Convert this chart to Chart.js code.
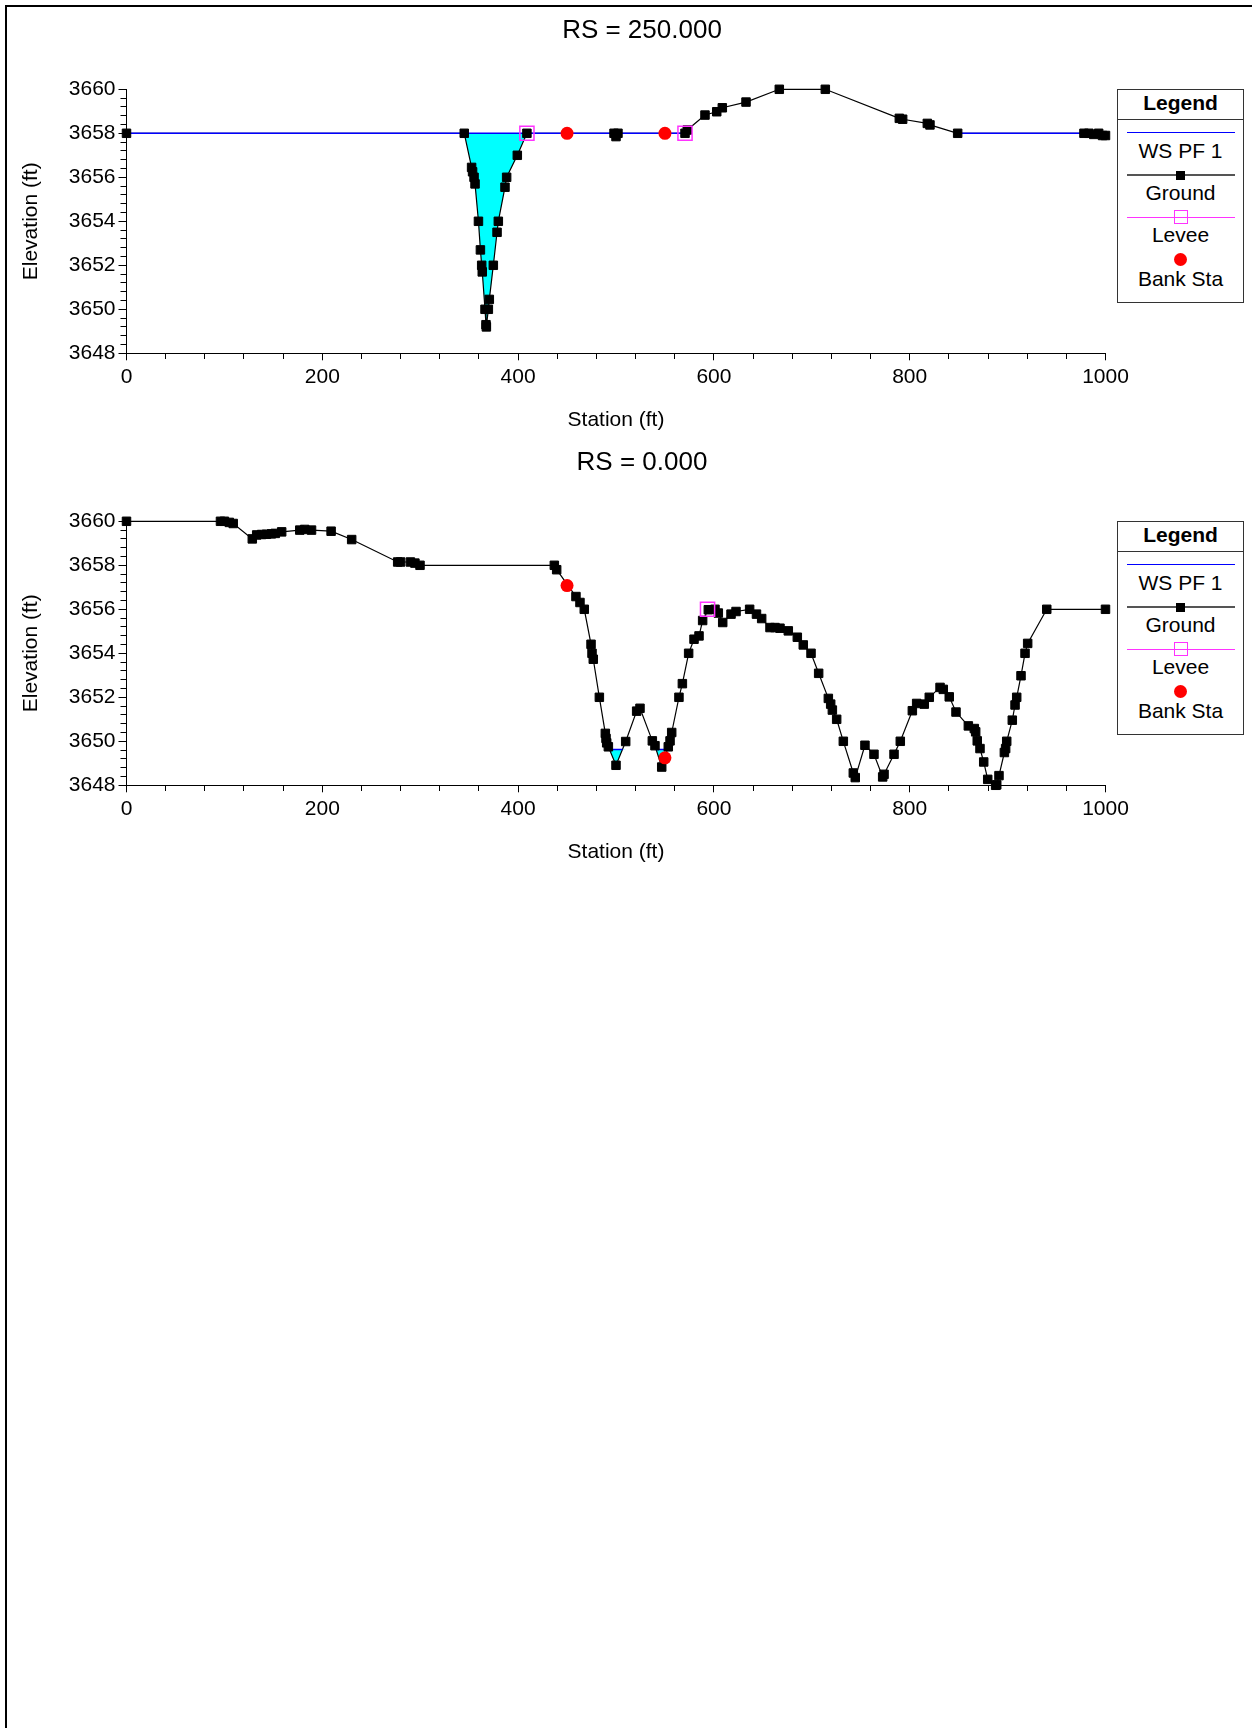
<!DOCTYPE html>
<html>
<head>
<meta charset="utf-8">
<script src="https://cdn.jsdelivr.net/npm/chart.js@4.4.1/dist/chart.umd.min.js"></script>
<style>
html,body{margin:0;padding:0;background:#fff;}
body{width:1252px;height:1728px;position:relative;overflow:hidden;font-family:"Liberation Sans",Arial,sans-serif;color:#000;}
#frame{position:absolute;left:5px;top:5px;width:1300px;height:1800px;border-left:2px solid #000;border-top:2px solid #000;}
.panel{position:absolute;left:0;width:1252px;height:440px;}
.panel canvas{position:absolute;left:0;top:0;}
.title{position:absolute;left:442px;width:400px;top:13.5px;height:30px;line-height:30px;text-align:center;font-size:26px;white-space:nowrap;}
.legend{position:absolute;left:1117px;top:89px;width:127px;height:214px;box-sizing:border-box;border:1px solid #333;background:#fff;}
.legend .txt{position:absolute;left:0;width:125px;height:24px;line-height:24px;text-align:center;font-size:21px;white-space:nowrap;}
.legend .hdr{font-weight:bold;}
.legend .div{position:absolute;left:0;width:125px;top:29px;height:0;border-top:1px solid #333;}
.legend .ln{position:absolute;left:9px;width:108px;height:0;}
.legend .mk{position:absolute;box-sizing:border-box;}
</style>
</head>
<body>
<div id="frame"></div>

<div class="panel" id="p1" style="top:0px;">
  <canvas id="c1" width="1252" height="440"></canvas>
  <div class="title">RS = 250.000</div>
</div>
<div class="panel" id="p2" style="top:432px;">
  <canvas id="c2" width="1252" height="440"></canvas>
  <div class="title">RS = 0.000</div>
</div>

<script>
// ---------------- DATA ----------------
// RS = 250.000
const topGroundSta  = [0, 345, 352.5, 353.5, 355, 356, 359.5, 361.5, 362.8, 363.4, 366.2, 367.2, 367.6, 369.6, 370.6, 374.7, 378.5, 379.8, 386.6, 388.3, 399.2, 409, 498, 500, 502, 570.5, 572.8, 590.9, 602.9, 608.6, 632.8, 666.8, 713.8, 789.4, 792.8, 818, 820.7, 849, 978, 983, 988, 993, 997, 1000];
const topGroundElev = [3658, 3658, 3656.45, 3656.25, 3656.0, 3655.7, 3654.0, 3652.7, 3652.0, 3651.7, 3650.0, 3649.3, 3649.2, 3650.0, 3650.45, 3652.0, 3653.5, 3654.0, 3655.55, 3656.0, 3657.0, 3658, 3658, 3657.85, 3658, 3658, 3658.15, 3658.83, 3658.98, 3659.16, 3659.42, 3660, 3660, 3658.68, 3658.64, 3658.45, 3658.38, 3658, 3658, 3658, 3657.95, 3658, 3657.9, 3657.9];
const topBankSta    = [450, 550];
const topBankElev   = [3658, 3658];
const topLeveeSta   = [409, 570.5];
const topLeveeElev  = [3658, 3658];
const topWsElev     = 3658;
const topWsFrom     = [0, 849];
const topWsTo       = [570.5, 1000];
const topWaterFrom  = [345];
const topWaterTo    = [409];

// RS = 0.000
const botGroundSta  = [0, 96, 100, 105, 109, 128.5, 133, 138, 143, 148, 152, 158.5, 177, 182, 189, 209, 230, 277, 280, 290, 294.6, 299.8, 437, 439.4, 459.1, 463.2, 467.6, 474.5, 475.5, 476.8, 483, 489.1, 489.8, 490.5, 492.2, 500, 509.9, 521.1, 524.5, 537.1, 539.8, 546.7, 553.4, 555.2, 556.9, 564.3, 567.8, 574.2, 579.7, 584.8, 588.5, 594.3, 601.1, 604.5, 609, 617.5, 622.6, 636.5, 643.5, 648.8, 657.3, 662.4, 667.5, 676, 685.2, 691.3, 699.2, 707, 716.9, 719.3, 721, 725.4, 732.2, 742.4, 744.4, 754.3, 763.5, 772.4, 773.8, 784, 790.4, 802.7, 807.1, 814.9, 820, 831, 834.3, 840.4, 847.3, 859.9, 866, 867.4, 869, 871.8, 875.6, 879.7, 887.8, 888.9, 891.2, 896.7, 898, 899.1, 904.8, 907.6, 909.3, 913.7, 917.8, 920.5, 940, 1000];
const botGroundElev = [3660, 3660, 3660, 3659.95, 3659.9, 3659.2, 3659.38, 3659.4, 3659.41, 3659.43, 3659.45, 3659.52, 3659.6, 3659.63, 3659.6, 3659.55, 3659.17, 3658.15, 3658.15, 3658.15, 3658.1, 3658.0, 3658.0, 3657.8, 3656.58, 3656.31, 3656.0, 3654.41, 3654.0, 3653.73, 3652.0, 3650.36, 3650.13, 3649.93, 3649.75, 3648.91, 3649.99, 3651.37, 3651.5, 3650.02, 3649.8, 3648.83, 3649.75, 3650.02, 3650.4, 3652.0, 3652.62, 3654.0, 3654.64, 3654.79, 3655.49, 3655.98, 3656.0, 3655.83, 3655.4, 3655.78, 3655.9, 3656.0, 3655.78, 3655.58, 3655.17, 3655.17, 3655.14, 3655.02, 3654.73, 3654.38, 3654.0, 3653.09, 3651.95, 3651.69, 3651.42, 3651.0, 3650.0, 3648.56, 3648.35, 3649.82, 3649.41, 3648.38, 3648.5, 3649.41, 3650.0, 3651.39, 3651.72, 3651.69, 3652.0, 3652.45, 3652.36, 3652.02, 3651.33, 3650.7, 3650.58, 3650.43, 3650.02, 3649.67, 3649.06, 3648.27, 3648.0, 3648.02, 3648.44, 3649.49, 3649.67, 3650.0, 3650.96, 3651.65, 3652.0, 3652.98, 3654.0, 3654.45, 3656.0, 3656.0];
const botBankSta    = [450, 550];
const botBankElev   = [3657.08, 3649.25];
const botLeveeSta   = [593.5];
const botLeveeElev  = [3656.0];
const botWsElev     = 3649.63;
const botWsFrom     = [493.3, 541.0];
const botWsTo       = [506.6, 552.5];
const botWaterFrom  = [492.2, 539.8];
const botWaterTo    = [509.9, 553.4];

// Axes
const xMin = 0, xMax = 1000, xMinorStep = 40;
const xTickLabels = [0, 200, 400, 600, 800, 1000];
const yMin = 3648, yMax = 3660, yMinorStep = 0.4;
const yTickLabels = [3648, 3650, 3652, 3654, 3656, 3658, 3660];

// ---------------- DRAWING ----------------
const FONT = '"Liberation Sans", Arial, sans-serif';
Chart.defaults.font.family = FONT;
Chart.defaults.color = '#000';

function pts(xs, ys) { return xs.map((x, i) => ({x: x, y: ys[i]})); }
function isLabelX(v) { return xTickLabels.some(t => Math.abs(t - v) < 1e-6); }
function isLabelY(v) { return yTickLabels.some(t => Math.abs(t - v) < 1e-6); }
const xTicks = [], yTicks = [];
for (let i = 0; xMin + i * xMinorStep <= xMax + 1e-9; i++) xTicks.push(Math.round((xMin + i * xMinorStep) * 1000) / 1000);
for (let i = 0; yMin + i * yMinorStep <= yMax + 1e-9; i++) yTicks.push(Math.round((yMin + i * yMinorStep) * 1000) / 1000);

function makeChart(id, d) {
  const ground = pts(d.sta, d.elev);
  const datasets = [];
  // water pockets
  d.waterFrom.forEach((a, k) => {
    const b = d.waterTo[k];
    datasets.push({
      label: 'water', data: ground.filter(p => p.x >= a - 1e-9 && p.x <= b + 1e-9),
      borderWidth: 0, borderColor: 'rgba(0,0,0,0)', pointRadius: 0, backgroundColor: '#00ffff',
      fill: {target: {value: d.ws}, above: 'rgba(0,0,0,0)', below: '#00ffff'},
      order: 10
    });
  });
  // ground line
  datasets.push({label: 'GroundLine', data: ground, borderColor: '#000', borderWidth: 1.2, pointRadius: 0, fill: false, clip: false, order: 8});
  // water surface line
  const wsData = [];
  d.wsFrom.forEach((a, k) => {
    if (k > 0) wsData.push({x: (d.wsTo[k - 1] + a) / 2, y: null});
    wsData.push({x: a, y: d.ws});
    wsData.push({x: d.wsTo[k], y: d.ws});
  });
  datasets.push({label: 'WS PF 1', data: wsData, borderColor: '#0000ff', borderWidth: 1.6, pointRadius: 0, fill: false, spanGaps: false, clip: false, order: 6});
  // ground points
  datasets.push({label: 'Ground', data: ground, showLine: false, pointStyle: 'rect', pointRadius: 6, pointBackgroundColor: '#000', pointBorderColor: '#000', pointBorderWidth: 1, clip: false, order: 4});
  // bank stations
  datasets.push({label: 'Bank Sta', data: pts(d.bankSta, d.bankElev), showLine: false, pointStyle: 'circle', pointRadius: 6.5, pointBackgroundColor: '#ff0000', pointBorderWidth: 0, clip: false, order: 3});
  // levees
  datasets.push({label: 'Levee', data: pts(d.leveeSta, d.leveeElev), showLine: false, pointStyle: 'rect', pointRadius: 10, pointBackgroundColor: 'rgba(0,0,0,0)', pointBorderColor: '#ff33ff', pointBorderWidth: 1.5, clip: false, order: 2});

  return new Chart(document.getElementById(id), {
    type: 'line',
    data: {datasets: datasets},
    options: {
      responsive: false, animation: false, devicePixelRatio: 1,
      layout: {padding: {top: 89.3, left: 0, right: 146.5, bottom: 0}},
      plugins: {legend: {display: false}, tooltip: {enabled: false}, title: {display: false}},
      events: [],
      scales: {
        x: {
          type: 'linear', min: xMin, max: xMax,
          afterBuildTicks: s => { s.ticks = xTicks.map(v => ({value: v})); },
          afterFit: s => { s.height = 86.7; },
          ticks: {autoSkip: false, maxRotation: 0, padding: 4, color: '#000', font: {size: 21},
                  callback: v => isLabelX(v) ? String(v) : ''},
          grid: {drawOnChartArea: false, drawTicks: true, tickLength: 7, tickColor: '#000', tickWidth: 1,
                 tickBorderDash: c => (c.tick && isLabelX(c.tick.value)) ? [] : [5, 100]},
          border: {display: true, color: '#000', width: 1},
          title: {display: true, text: 'Station (ft)', color: '#000', font: {size: 21}, padding: {top: 0, bottom: 7}}
        },
        y: {
          type: 'linear', min: yMin, max: yMax,
          afterBuildTicks: s => { s.ticks = yTicks.map(v => ({value: v})); },
          afterFit: s => { s.width = 126.5; },
          ticks: {autoSkip: false, padding: 3, color: '#000', font: {size: 21},
                  callback: v => isLabelY(v) ? String(Math.round(v)) : ''},
          grid: {drawOnChartArea: false, drawTicks: true, tickLength: 8, tickColor: '#000', tickWidth: 1,
                 tickBorderDash: c => (c.tick && isLabelY(c.tick.value)) ? [] : [0, 2, 6, 100]},
          border: {display: true, color: '#000', width: 1},
          title: {display: true, text: 'Elevation (ft)', color: '#000', font: {size: 21}, padding: {top: 19, bottom: 0}}
        }
      }
    }
  });
}

function makeLegend(panelId) {
  const lg = document.createElement('div');
  lg.className = 'legend';
  lg.innerHTML =
    '<div class="txt hdr" style="top:1px;">Legend</div>' +
    '<div class="div"></div>' +
    '<div class="ln" style="top:42px;border-top:1px solid #0000ff;"></div>' +
    '<div class="txt" style="top:49px;">WS PF 1</div>' +
    '<div class="ln" style="top:84px;border-top:2px solid #555;"></div>' +
    '<div class="mk" style="left:58px;top:81px;width:9px;height:9px;background:#000;"></div>' +
    '<div class="txt" style="top:91px;">Ground</div>' +
    '<div class="ln" style="top:127px;border-top:1px solid #ff33ff;"></div>' +
    '<div class="mk" style="left:56px;top:120px;width:14px;height:14px;border:1.5px solid #ff33ff;"></div>' +
    '<div class="txt" style="top:133px;">Levee</div>' +
    '<div class="mk" style="left:56px;top:163px;width:13px;height:13px;border-radius:50%;background:#ff0000;"></div>' +
    '<div class="txt" style="top:177px;">Bank Sta</div>';
  document.getElementById(panelId).appendChild(lg);
}

makeChart('c1', {sta: topGroundSta, elev: topGroundElev, bankSta: topBankSta, bankElev: topBankElev,
  leveeSta: topLeveeSta, leveeElev: topLeveeElev, ws: topWsElev, wsFrom: topWsFrom, wsTo: topWsTo,
  waterFrom: topWaterFrom, waterTo: topWaterTo});
makeChart('c2', {sta: botGroundSta, elev: botGroundElev, bankSta: botBankSta, bankElev: botBankElev,
  leveeSta: botLeveeSta, leveeElev: botLeveeElev, ws: botWsElev, wsFrom: botWsFrom, wsTo: botWsTo,
  waterFrom: botWaterFrom, waterTo: botWaterTo});
makeLegend('p1');
makeLegend('p2');
</script>
</body>
</html>
